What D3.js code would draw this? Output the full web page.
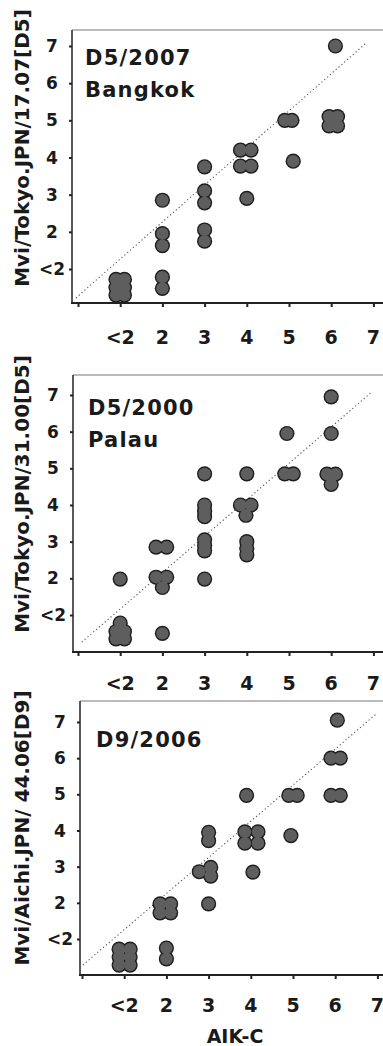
<!DOCTYPE html>
<html>
<head>
<meta charset="utf-8">
<script src="https://cdn.jsdelivr.net/npm/d3@7"></script>
<style>
  html, body { margin: 0; padding: 0; background: #fff; }
  svg { display: block; }
  text { font-family: "DejaVu Sans", sans-serif; font-weight: bold; fill: #1a1a1a; }
</style>
</head>
<body>
<svg id="chart" width="383" height="1046"></svg>
<script>
// x categories (AIK-C titre) and y categories share the same labels
const tickValues = [1, 2, 3, 4, 5, 6, 7];
const tickLabels = ["<2", "2", "3", "4", "5", "6", "7"];

// panel titles / y-axis titles
const panelTitles = [["D5/2007", "Bangkok"], ["D5/2000", "Palau"], ["D9/2006"]];
const yTitles = ["Mvi/Tokyo.JPN/17.07[D5]", "Mvi/Tokyo.JPN/31.00[D5]", "Mvi/Aichi.JPN/ 44.06[D9]"];
const xTitle = "AIK-C";

// points: [AIK-C, virus strain] in log2 titre units, jittered as in the figure
const bangkokPts = [
  [6.1, 7],
  [5.95, 5.1], [6.15, 5.1], [5.95, 4.85], [6.15, 4.85],
  [4.9, 5], [5.07, 5],
  [5.1, 3.9],
  [3.85, 4.2], [4.1, 4.2], [3.85, 3.77], [4.1, 3.77],
  [3, 3.75],
  [4, 2.9],
  [2, 2.85],
  [3, 3.1], [3, 2.78],
  [3, 2.05], [3, 1.75],
  [2, 1.95], [2, 1.63],
  [2, 0.78], [2, 0.48],
  [0.9, 0.72], [1.1, 0.72], [0.9, 0.5], [1.1, 0.5], [0.9, 0.3], [1.1, 0.3]
];
const palauPts = [
  [6, 6.95], [6, 5.95], [4.95, 5.95],
  [5.9, 4.84], [6.1, 4.84], [6, 4.56],
  [4.9, 4.85], [5.1, 4.85],
  [4, 4.85], [3, 4.85],
  [3.85, 4.0], [4.1, 4.0], [3.98, 3.72],
  [3, 4.0], [3, 3.83], [3, 3.68],
  [3, 3.05], [3, 2.9], [3, 2.75],
  [4, 3.0], [4, 2.82], [4, 2.64],
  [1.85, 2.85], [2.1, 2.85],
  [1.85, 2.03], [2.1, 2.03], [2.0, 1.75],
  [1, 1.98], [3, 1.98],
  [1.0, 0.78], [0.9, 0.55], [1.1, 0.55], [0.9, 0.35], [1.1, 0.35],
  [2, 0.5]
];
const aichiPts = [
  [6.05, 7.05],
  [5.9, 6], [6.12, 6],
  [5.9, 4.97], [6.12, 4.97],
  [4.9, 4.97], [5.1, 4.97],
  [3.9, 4.97],
  [4.95, 3.86],
  [3.86, 3.96], [4.17, 3.96], [3.86, 3.65], [4.17, 3.65],
  [3, 3.95], [3, 3.72],
  [2.78, 2.86], [3.05, 2.98], [3.05, 2.74],
  [4.05, 2.85],
  [3, 1.97],
  [1.85, 1.97], [2.1, 1.97], [1.85, 1.72], [2.1, 1.72],
  [2, 0.75], [2, 0.45],
  [0.88, 0.72], [1.14, 0.72], [0.88, 0.5], [1.14, 0.5], [0.88, 0.28], [1.14, 0.28]
];
const allPoints = [bangkokPts, palauPts, aichiPts];

// dotted line of equality, drawn in data units
const equalityLines = [
  [[-0.05, 0.22], [6.85, 7.1]],
  [[0.09, 0.26], [6.95, 7.07]],
  [[0.02, 0.28], [7.0, 7.25]]
];

// layout of the three panels (pixels)
const layout = [
  { axisX: 72, x0: 78, top: 30, bottom: 303, y1: 269, y7: 46, titleX: 85, titleY: [65, 97], yTitleY: 148, tickLabelY: 344 },
  { axisX: 73, x0: 78, top: 375, bottom: 652, y1: 615, y7: 395, titleX: 88, titleY: [415, 447], yTitleY: 494, tickLabelY: 690 },
  { axisX: 80, x0: 82, top: 701, bottom: 975, y1: 939, y7: 722, titleX: 96, titleY: [747], yTitleY: 828, tickLabelY: 1012 }
];
const unitX = 42.2;
const rightEdge = 383;

const svg = d3.select("#chart");

layout.forEach((p, i) => {
  const x = d3.scaleLinear().domain([0, 7]).range([p.x0, p.x0 + 7 * unitX]);
  const y = d3.scaleLinear().domain([1, 7]).range([p.y1, p.y7]);
  const g = svg.append("g");

  // top frame line
  g.append("line")
    .attr("x1", p.axisX).attr("x2", rightEdge)
    .attr("y1", p.top).attr("y2", p.top)
    .style("stroke", "#777").style("stroke-width", 1);

  // equality line
  const line = d3.line().x(d => x(d[0])).y(d => y(d[1]));
  g.append("path")
    .datum(equalityLines[i])
    .attr("d", line)
    .style("fill", "none")
    .style("stroke", "#555")
    .style("stroke-width", 1.1)
    .style("stroke-dasharray", "1.2,2.6");

  // points: dark underlay first, grey fill on top so overlapping dots merge into blobs
  const pts = g.append("g");
  pts.append("g").selectAll("circle")
    .data(allPoints[i])
    .join("circle")
    .attr("cx", d => x(d[0]))
    .attr("cy", d => y(d[1]))
    .attr("r", 7.6)
    .style("fill", "#1e1e1e");
  pts.append("g").selectAll("circle")
    .data(allPoints[i])
    .join("circle")
    .attr("cx", d => x(d[0]))
    .attr("cy", d => y(d[1]))
    .attr("r", 6.2)
    .style("fill", "#5e5e5e");

  // x axis
  const xAxis = d3.axisBottom(x)
    .tickValues([0].concat(tickValues))
    .tickSize(4)
    .tickFormat("");
  const xg = g.append("g")
    .attr("transform", `translate(0,${p.bottom})`)
    .call(xAxis);
  xg.select(".domain").remove();
  xg.selectAll(".tick line").style("stroke", "#222").style("stroke-width", 2);
  g.append("line")
    .attr("x1", p.axisX - 1).attr("x2", rightEdge)
    .attr("y1", p.bottom).attr("y2", p.bottom)
    .style("stroke", "#222").style("stroke-width", 2);

  g.append("g").selectAll("text")
    .data(tickValues)
    .join("text")
    .attr("x", d => x(d))
    .attr("y", p.tickLabelY)
    .attr("text-anchor", "middle")
    .style("font-size", "19px")
    .text((d, k) => tickLabels[k]);

  // y axis
  const yAxis = d3.axisLeft(y)
    .tickValues(tickValues)
    .tickSize(3)
    .tickFormat("");
  const yg = g.append("g")
    .attr("transform", `translate(${p.axisX},0)`)
    .call(yAxis);
  yg.select(".domain").remove();
  yg.selectAll(".tick line").style("stroke", "#222").style("stroke-width", 2);
  g.append("line")
    .attr("x1", p.axisX).attr("x2", p.axisX)
    .attr("y1", p.top).attr("y2", p.bottom)
    .style("stroke", "#222").style("stroke-width", 1.5);

  g.append("g").selectAll("text")
    .data(tickValues)
    .join("text")
    .attr("x", p.axisX - 20)
    .attr("y", d => y(d))
    .attr("dy", "0.36em")
    .attr("text-anchor", "middle")
    .style("font-size", "17px")
    .text((d, k) => tickLabels[k]);

  // y title
  g.append("text")
    .attr("transform", `translate(29,${p.yTitleY}) rotate(-90)`)
    .attr("text-anchor", "middle")
    .style("font-size", "20px")
    .text(yTitles[i]);

  // panel title
  panelTitles[i].forEach((t, k) => {
    g.append("text")
      .attr("x", p.titleX)
      .attr("y", p.titleY[k])
      .style("font-size", "21px")
      .style("letter-spacing", "1.2px")
      .text(t);
  });
});

// x title under the last panel
svg.append("text")
  .attr("x", 235)
  .attr("y", 1043)
  .attr("text-anchor", "middle")
  .style("font-size", "19px")
  .text(xTitle);
</script>
</body>
</html>
